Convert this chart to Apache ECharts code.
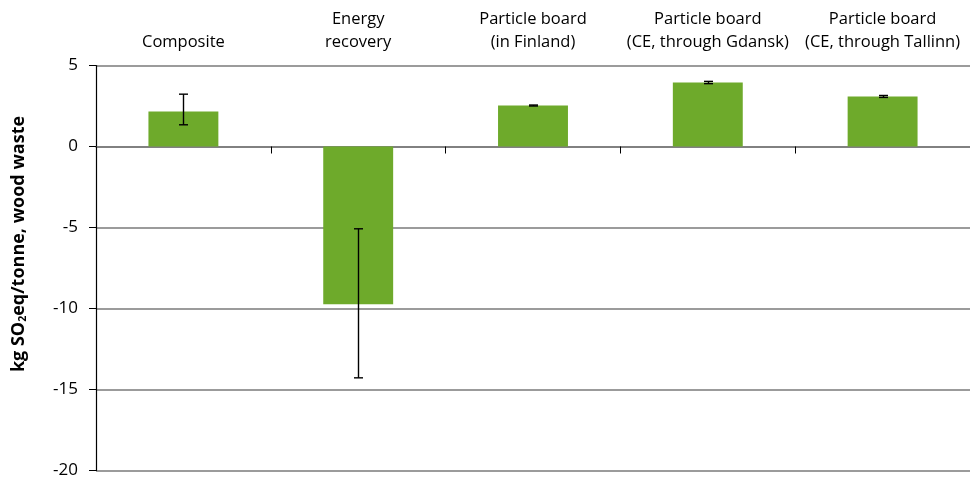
<!DOCTYPE html>
<html>
<head>
<meta charset="utf-8">
<script src="https://cdn.jsdelivr.net/npm/echarts@6/dist/echarts.min.js"></script>
<style>
  html, body { margin: 0; padding: 0; background: #fff; }
  #chart { width: 970px; height: 481px; }
</style>
</head>
<body>
<div id="chart"></div>
<script>
// Acidification per tonne of wood waste, by treatment route
const categories = [
  'Composite',
  'Energy\nrecovery',
  'Particle board\n(in Finland)',
  'Particle board\n(CE, through Gdansk)',
  'Particle board\n(CE, through Tallinn)'
];
const values  = [2.16, -9.73, 2.53, 3.95, 3.09];
const errLow  = [1.34, -14.28, 2.50, 3.88, 3.03];
const errHigh = [3.23, -5.08, 2.56, 4.02, 3.15];
const yTicks = { min: -20, max: 5, interval: 5 };

const FONT = '"Open Sans", Lato, sans-serif';
const GREEN = '#6eaa2b';

const chart = echarts.init(document.getElementById('chart'));

// error bar: vertical stem with short caps at both ends
function renderErr(params, api) {
  const i = api.value(0);
  const lo = api.coord([i, api.value(1)]);
  const hi = api.coord([i, api.value(2)]);
  const x = Math.round(lo[0]) + 0.5;
  const cap = 4.5;
  const st = { stroke: '#000', lineWidth: 1.4 };
  return {
    type: 'group',
    children: [
      { type: 'line', shape: { x1: x, y1: lo[1], x2: x, y2: hi[1] }, style: st },
      { type: 'line', shape: { x1: x - cap, y1: lo[1], x2: x + cap, y2: lo[1] }, style: st },
      { type: 'line', shape: { x1: x - cap, y1: hi[1], x2: x + cap, y2: hi[1] }, style: st }
    ]
  };
}

chart.setOption({
  animation: false,
  grid: { left: 96, top: 65.5, width: 881, height: 405, containLabel: false },
  xAxis: [
    {
      type: 'category',
      data: categories,
      position: 'bottom',
      axisLine: { onZero: true, lineStyle: { color: '#7a7a7a', width: 1.5 } },
      axisTick: { show: true, length: 7, lineStyle: { color: '#000', width: 1 } },
      axisLabel: { show: false },
      splitLine: { show: false }
    },
    {
      type: 'category',
      data: categories,
      position: 'top',
      axisLine: { show: false, onZero: false },
      axisTick: { show: false },
      axisLabel: {
        show: true, interval: 0, margin: 12,
        color: '#000', fontFamily: FONT, fontSize: 16.5, lineHeight: 23
      },
      splitLine: { show: false }
    }
  ],
  yAxis: {
    type: 'value',
    min: yTicks.min, max: yTicks.max, interval: yTicks.interval,
    axisLine: { show: true, onZero: false, lineStyle: { color: '#000', width: 1.2 } },
    axisTick: { show: true, length: 7, lineStyle: { color: '#000' } },
    axisLabel: { color: '#000', fontFamily: FONT, fontSize: 17, margin: 18 },
    splitLine: { show: true, lineStyle: { color: '#7a7a7a', width: 1.5 } }
  },
  graphic: [{
    type: 'text',
    x: 19, y: 244,
    rotation: Math.PI / 2,
    style: {
      text: '{a|kg SO}{s|2}{a|eq/tonne, wood waste}',
      align: 'center', verticalAlign: 'middle',
      rich: {
        a: { fontFamily: FONT, fontSize: 18, fontWeight: 'bold', fill: '#000', lineHeight: 22 },
        s: { fontFamily: FONT, fontSize: 10.5, fontWeight: 'bold', fill: '#000', lineHeight: 22, padding: [9, 0, 0, 0] }
      }
    }
  }],
  series: [
    {
      type: 'bar',
      data: values,
      barWidth: '40%',
      itemStyle: { color: GREEN },
      z: 2
    },
    {
      type: 'custom',
      renderItem: renderErr,
      data: categories.map((c, i) => [i, errLow[i], errHigh[i]]),
      encode: { x: 0, y: [1, 2] },
      z: 5
    }
  ]
});
</script>
</body>
</html>
